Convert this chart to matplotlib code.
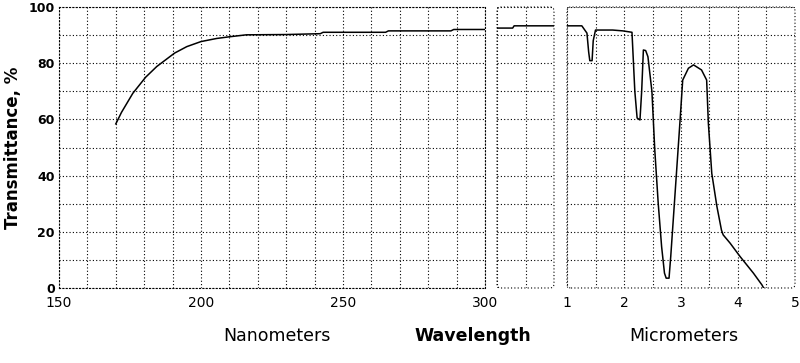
import matplotlib
matplotlib.use("Agg")
import matplotlib.pyplot as plt
from matplotlib.patches import FancyBboxPatch

plt.rcParams['font.family'] = ['DejaVu Sans']

# UV part, nanometers
nm_x = [170, 172, 176, 180.5, 184.4, 190.7, 195, 200, 205.5, 210, 216, 230, 242,
        243, 265, 266, 288, 289, 300]
nm_y = [58.4, 62.5, 69.3, 75, 78.8, 83.6, 85.9, 87.7, 88.8, 89.4, 90.1, 90.2, 90.5,
        91, 91, 91.5, 91.5, 92, 92]

# middle (300 nm .. 1 um) in panel units 0..2
mid_x = [0, 0.55, 0.6, 2]
mid_y = [92.5, 92.5, 93.3, 93.3]

# IR part, micrometers
um_x = [1.00, 1.26, 1.35, 1.38, 1.40, 1.44, 1.46, 1.50, 1.80, 1.98, 2.14, 2.19,
        2.23, 2.28, 2.31, 2.34, 2.38, 2.42, 2.49, 2.54, 2.60, 2.66, 2.71, 2.74,
        2.79, 2.82, 2.86, 2.92, 2.98, 3.03, 3.13, 3.22, 3.36, 3.45, 3.48, 3.54,
        3.63, 3.71, 3.74, 3.86, 4.04, 4.27, 4.42, 4.45]
um_y = [93.3, 93.3, 90.7, 84, 80.9, 80.9, 88, 91.8, 91.8, 91.5, 91, 70,
        60.5, 59.8, 70, 84.7, 84.5, 82.3, 69.9, 49.1, 30.2, 14.7, 5.3, 3.5,
        3.5, 11.2, 23, 40.8, 58.6, 74, 78.2, 79.4, 77.6, 74, 58.6, 40.8,
        29, 20.6, 18.9, 16, 11.1, 5.3, 1.1, 0]

y_ticks = [0, 20, 40, 60, 80, 100]
nm_ticks = [150, 200, 250, 300]
um_ticks = [1, 2, 3, 4, 5]

W, H = 800, 363
fig = plt.figure(figsize=(8, 3.63), dpi=100)

def frac(x0, x1):
    return [x0 / W, 1 - 288 / H, (x1 - x0) / W, (288 - 7) / H]

ax1 = fig.add_axes(frac(59, 485))
ax2 = fig.add_axes(frac(497, 554))
ax3 = fig.add_axes(frac(567, 795))

dot = (0, (1, 2))
for ax in (ax1, ax2, ax3):
    ax.set_ylim(0, 100)
    ax.set_yticks(range(0, 101, 10))
    ax.grid(True, color="black", linestyle=dot, linewidth=0.8)
    ax.tick_params(length=0)
    for s in ax.spines.values():
        s.set_visible(False)

ax1.plot(nm_x, nm_y, color="black", linewidth=1.1)
ax1.set_xlim(150, 300)
ax1.set_xticks(range(150, 301, 10))
ax1.set_xticklabels([str(v) if v in nm_ticks else "" for v in range(150, 301, 10)])
ax1.set_yticklabels([str(v) if v in y_ticks else "" for v in range(0, 101, 10)],
                    fontsize=9, fontweight="bold")
ax1.tick_params(axis="y", pad=3)
ax1.tick_params(axis="x", labelsize=10, pad=6)
for s in ax1.spines.values():
    s.set_visible(True)
    s.set_linestyle(dot)
    s.set_linewidth(0.8)
ax1.set_ylabel("Transmittance, %", fontsize=12, fontweight="bold", labelpad=5)

ax2.plot(mid_x, mid_y, color="black", linewidth=1.1)
ax2.set_xlim(0, 2)
ax2.set_xticks([0, 1, 2])
ax2.set_xticklabels([])
ax2.set_yticklabels([])

um_grid = [1, 1.5, 2, 2.5, 3, 3.5, 4, 4.5, 5]
ax3.plot(um_x, um_y, color="black", linewidth=1.1)
ax3.set_xlim(1, 5)
ax3.set_xticks(um_grid)
ax3.set_xticklabels([str(v) if v in um_ticks else "" for v in um_grid])
ax3.tick_params(axis="x", labelsize=10, pad=6)
ax3.set_yticklabels([])

for ax, wpx in ((ax2, 57), (ax3, 228)):
    r = 4 / wpx
    box = FancyBboxPatch((0, 0), 1, 1, boxstyle=f"round,pad=0,rounding_size={r}",
                         mutation_aspect=wpx / 281, transform=ax.transAxes,
                         fill=False, edgecolor="black", linestyle=dot,
                         linewidth=0.8, clip_on=False)
    ax.add_patch(box)

fig.text(277 / W, 1 - 336 / H, "Nanometers", ha="center", va="center", fontsize=12.5)
fig.text(473 / W, 1 - 336 / H, "Wavelength", ha="center", va="center", fontsize=12.5,
         fontweight="bold")
fig.text(684 / W, 1 - 336 / H, "Micrometers", ha="center", va="center", fontsize=12.5)

fig.savefig("out.png", dpi=100)
